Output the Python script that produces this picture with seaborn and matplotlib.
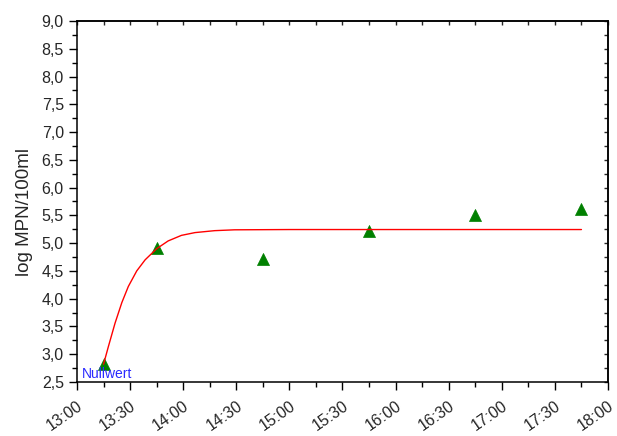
import matplotlib
matplotlib.use("Agg")
import matplotlib.pyplot as plt
from matplotlib.ticker import FixedLocator, MultipleLocator, FuncFormatter
import seaborn as sns
import pandas as pd

# Measured samples (log MPN/100ml)
sample_times = ["13:15", "13:45", "14:45", "15:45", "16:45", "17:45"]
sample_values = [2.82, 4.91, 4.71, 5.21, 5.51, 5.61]

# Fitted growth curve
curve_times = ["13:15", "13:17:45", "13:21:30", "13:25:20", "13:29", "13:33:45",
               "13:38:30", "13:45", "13:51:30", "13:59", "14:06:40", "14:17:50",
               "14:29", "15:00", "17:45"]
curve_values = [2.82, 3.14, 3.56, 3.93, 4.22, 4.50, 4.70, 4.90, 5.04, 5.14,
                5.19, 5.225, 5.24, 5.245, 5.245]

tick_labels = ["13:00", "13:30", "14:00", "14:30", "15:00", "15:30",
               "16:00", "16:30", "17:00", "17:30", "18:00"]


def to_minutes(times):
    # minutes after 13:00
    td = pd.to_timedelta([t if t.count(":") == 2 else t + ":00" for t in times])
    return (td.total_seconds() / 60 - 13 * 60).tolist()


samples = pd.DataFrame({"t": to_minutes(sample_times), "v": sample_values})
curve = pd.DataFrame({"t": to_minutes(curve_times), "v": curve_values})
tick_pos = to_minutes(tick_labels)

sns.set_theme(style="ticks")
plt.rcParams["font.family"] = ["Liberation Sans", "DejaVu Sans"]

fig = plt.figure(figsize=(6.17, 4.36), dpi=100)
ax = fig.add_axes([0.1248, 0.1239, 0.8606, 0.8279])

sns.scatterplot(data=samples, x="t", y="v", ax=ax, marker="^", s=75,
                color="#008000", edgecolor="#008000", linewidth=0.5, zorder=2)
sns.lineplot(data=curve, x="t", y="v", ax=ax, color="red", linewidth=1.0,
             zorder=3)

ax.text(3, 2.64, "Nullwert", color="#2a2aff", fontsize=10,
        ha="left", va="center")

ax.set_xlim(tick_pos[0], tick_pos[-1])
ax.set_ylim(2.5, 9.0)

ax.xaxis.set_major_locator(FixedLocator(tick_pos))
ax.set_xticklabels(tick_labels, rotation=35, ha="right", rotation_mode="anchor")
ax.xaxis.set_minor_locator(MultipleLocator(15))
ax.yaxis.set_major_locator(MultipleLocator(0.5))
ax.yaxis.set_minor_locator(MultipleLocator(0.25))
ax.yaxis.set_major_formatter(FuncFormatter(lambda v, p: f"{v:.1f}".replace(".", ",")))

ax.tick_params(which="major", direction="out", length=6, width=1.0,
               labelsize=11.5, color="black")
ax.tick_params(which="minor", direction="out", length=3.5, width=1.0,
               color="black")
ax.tick_params(axis="x", which="major", pad=6)

# top and right: inward ticks without labels
top = ax.secondary_xaxis("top")
top.xaxis.set_major_locator(MultipleLocator(15))
top.tick_params(direction="in", length=3, width=1.0, labeltop=False)
right = ax.secondary_yaxis("right")
right.yaxis.set_major_locator(MultipleLocator(0.25))
right.tick_params(direction="in", length=3, width=1.0, labelright=False)

for s in ax.spines.values():
    s.set_visible(True)
    s.set_linewidth(1.1)
    s.set_color("black")
for a in (top, right):
    for s in a.spines.values():
        s.set_linewidth(1.1)
        s.set_color("black")

ax.set_xlabel("")
ax.set_ylabel("log MPN/100ml", fontsize=13.5)
ax.yaxis.set_label_coords(-0.083, 0.47)

fig.savefig("out.png", dpi=100)
